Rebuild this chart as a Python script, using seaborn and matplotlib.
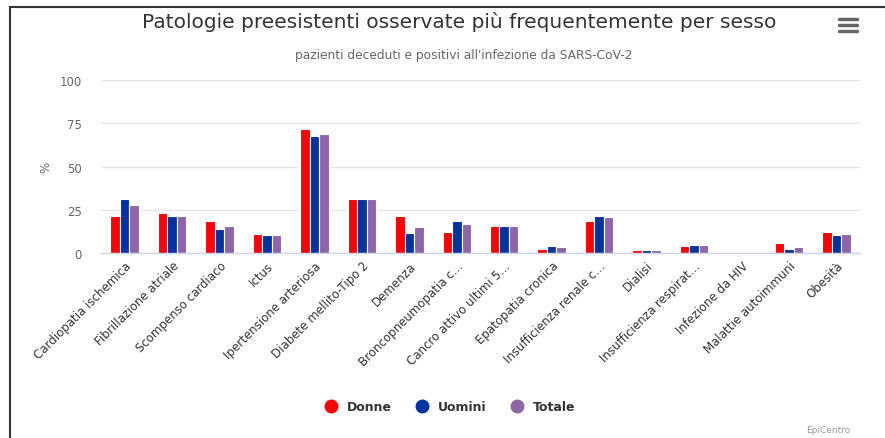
import numpy as np
import pandas as pd
import matplotlib.pyplot as plt
import seaborn as sns
from matplotlib.lines import Line2D

# ~~~~~~~~~~~~~ Data ~~~~~~~~~~~~~
patologie = ['Cardiopatia ischemica', 'Fibrillazione atriale', 'Scompenso cardiaco', 'Ictus',
             'Ipertensione arteriosa', 'Diabete mellito-Tipo 2', 'Demenza', 'Broncopneumopatia c…',
             'Cancro attivo ultimi 5…', 'Epatopatia cronica', 'Insufficienza renale c…', 'Dialisi',
             'Insufficienza respirat…', 'Infezione da HIV', 'Malattie autoimmuni', 'Obesità']
donne = [21.3, 23.1, 18.8, 11.0, 71.7, 31.3, 21.3, 12.3, 15.6, 2.3, 18.8, 1.7, 4.2, 0.0, 6.0, 12.3]
uomini = [31.3, 21.3, 14.0, 10.6, 67.5, 31.3, 11.7, 18.8, 16.0, 4.2, 21.7, 1.7, 4.8, 0.0, 2.3, 10.6]
totale = [28.1, 21.5, 16.0, 10.6, 68.8, 31.3, 15.0, 16.7, 16.0, 3.5, 20.8, 1.7, 4.8, 0.0, 3.5, 11.0]
serie = ['Donne', 'Uomini', 'Totale']
colori = ['#ff0000', '#0033a0', '#8e65a8']
y_ticks = [0, 25, 50, 75, 100]

df = pd.DataFrame({'patologia': patologie * 3,
                   'sesso': np.repeat(serie, len(patologie)),
                   'valore': donne + uomini + totale})

sns.set_style('white')
plt.rcParams['font.family'] = ['DejaVu Sans']

fig = plt.figure(figsize=(8.85, 4.39), dpi=100)
ax = fig.add_axes([101 / 885, 1 - 254.3 / 439, 759 / 885, (254.3 - 81) / 439])

sns.barplot(data=df, x='patologia', y='valore', hue='sesso', hue_order=serie,
            palette=colori, saturation=1, width=0.6, edgecolor='white', linewidth=0.8,
            ax=ax, legend=False)

ax.set_ylim(0, 100)
ax.set_xlim(-0.5, len(patologie) - 0.5)
ax.set_yticks(y_ticks)
ax.set_yticklabels([str(t) for t in y_ticks], color='#666666', fontsize=8.5)
ax.tick_params(axis='y', length=0, pad=14)
ax.tick_params(axis='x', length=0, pad=4)
ax.grid(axis='y', color='#e6e6e6', linewidth=1)
ax.set_axisbelow(True)
for s in ['top', 'right', 'left']:
    ax.spines[s].set_visible(False)
ax.spines['bottom'].set_color('#ccd6eb')
ax.spines['bottom'].set_linewidth(1)

ax.set_xticks(range(len(patologie)))
ax.set_xticklabels(patologie, rotation=45, ha='right', rotation_mode='anchor',
                   fontsize=8.5, color='#333333')
ax.set_xlabel('')
ax.set_ylabel('%', color='#666666', fontsize=8.5, labelpad=5)

# titles
fig.text(459 / 885, 1 - 22 / 439, 'Patologie preesistenti osservate più frequentemente per sesso',
         ha='center', va='center', fontsize=14.5, color='#333333')
fig.text(464 / 885, 1 - 55 / 439, "pazienti deceduti e positivi all'infezione da SARS-CoV-2",
         ha='center', va='center', fontsize=8.8, color='#666666')

# legend with round markers
handles = [Line2D([], [], marker='o', linestyle='', markersize=9, color=c) for c in colori]
leg = fig.legend(handles, serie, loc='center', bbox_to_anchor=(447 / 885, 1 - 408 / 439),
                 ncol=3, frameon=False, handletextpad=0.3, columnspacing=1.4,
                 prop={'weight': 'bold', 'size': 9})
for t in leg.get_texts():
    t.set_color('#333333')

fig.text(850 / 885, 1 - 431 / 439, 'EpiCentro', ha='right', va='center', fontsize=6.5, color='#999999')

# frame and menu icon
fig.add_artist(Line2D([10 / 885, 10 / 885], [0, 1 - 8 / 439], color='#333333', linewidth=1.5))
fig.add_artist(Line2D([10 / 885, 1], [1 - 8 / 439, 1 - 8 / 439], color='#333333', linewidth=1.5))
for yy in [20, 26, 32]:
    fig.add_artist(Line2D([839 / 885, 857 / 885], [1 - yy / 439, 1 - yy / 439],
                          color='#666666', linewidth=2.5, solid_capstyle='round'))

fig.savefig('out.png', dpi=100)
